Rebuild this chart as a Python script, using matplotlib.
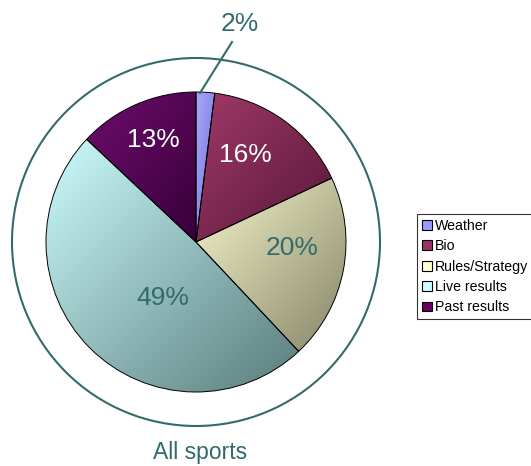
import matplotlib
matplotlib.use('Agg')
import matplotlib.pyplot as plt
import matplotlib.patches as patches
from matplotlib.colors import LinearSegmentedColormap
import numpy as np

plt.rcParams['font.family'] = ['Liberation Sans', 'DejaVu Sans']

# chart data
categories = ['Weather', 'Bio', 'Rules/Strategy', 'Live results', 'Past results']
shares = [2, 16, 20, 49, 13]
pct_labels = ['2%', '16%', '20%', '49%', '13%']
title = 'All sports'

# light (top-left) -> dark (bottom-right) gradient per slice
light_cols = ['#A8A8FF', '#A03868', '#F6F6CC', '#CCFCFC', '#6E0C6E']
dark_cols = ['#7070D0', '#58183A', '#86866A', '#5A7C7C', '#380038']
legend_cols = ['#9999FF', '#993366', '#FFFFCC', '#CCFFFF', '#660066']
label_cols = ['#336B6B', 'white', '#336B6B', '#336B6B', 'white']
teal = '#336B6B'

W, H = 531, 466
fig = plt.figure(figsize=(W / 100, H / 100), dpi=100)
ax = fig.add_axes([0, 0, 1, 1])

cx, cy, r = 196, H - 242, 150

wedges, _ = ax.pie(shares, startangle=90, counterclock=False, center=(cx, cy),
                   radius=r, wedgeprops=dict(facecolor='none', edgecolor='black', linewidth=0.7))

# gradient fill clipped to each wedge
for w, c0, c1 in zip(wedges, light_cols, dark_cols):
    ext = w.get_path().get_extents()
    gx, gy = np.meshgrid(np.linspace(0, 1, 200), np.linspace(0, 1, 200))
    g = (gx + (1 - gy)) / 2.0
    cmap = LinearSegmentedColormap.from_list('g', [c0, c1])
    im = ax.imshow(g, cmap=cmap, extent=(ext.x0, ext.x1, ext.y0, ext.y1),
                   origin='lower', aspect='auto', zorder=w.get_zorder() - 0.5,
                   interpolation='bilinear')
    im.set_clip_path(w)

# outer ring
ax.add_patch(patches.Circle((cx, cy), 184, facecolor='none', edgecolor=teal, linewidth=1.5))

# percentage labels
label_pos = [(240, 24), (245, 155), (292, 248), (163, 298), (153, 140)]
for (x, y), txt, col in zip(label_pos, pct_labels, label_cols):
    ax.text(x, H - y, txt, color=col, fontsize=19, ha='center', va='center')
ax.plot([232, 200], [H - 42, H - 93], color=teal, linewidth=1.5)

ax.text(200, H - 452, title, color=teal, fontsize=16.5, ha='center', va='center')

ax.set_xlim(0, W)
ax.set_ylim(0, H)
ax.set_aspect('auto')
ax.axis('off')

handles = [patches.Patch(facecolor=c, edgecolor='black', linewidth=0.8) for c in legend_cols]
leg = fig.legend(handles, categories, loc='upper left', bbox_to_anchor=(417 / W, 1 - 214 / H),
                 fontsize=10.2, frameon=True, fancybox=False, borderpad=0.35,
                 handlelength=0.7, handleheight=0.7, handletextpad=0.2, labelspacing=0.45,
                 borderaxespad=0)
leg.get_frame().set_edgecolor('black')
leg.get_frame().set_linewidth(0.8)

fig.savefig('out.png', dpi=100)
